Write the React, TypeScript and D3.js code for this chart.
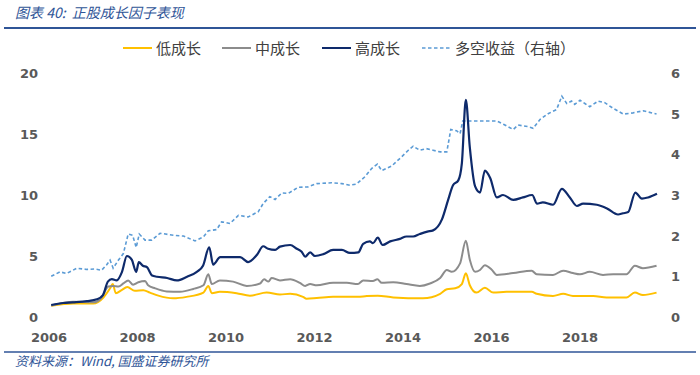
import React from "react";
import * as d3 from "d3";

type P = [number, number];

const yearTicks = [2006, 2008, 2010, 2012, 2014, 2016, 2018];
const leftTicks = [0, 5, 10, 15, 20];
const rightTicks = [0, 1, 2, 3, 4, 5, 6];

const legendLabels = ["低成长", "中成长", "高成长", "多空收益（右轴）"];
const titleText = "图表 40:  正股成长因子表现";
const sourceText = "资料来源：Wind, 国盛证券研究所";

const lowGrowth: P[] = [
  [2006.05, 0.93], [2006.55, 1.1], [2007.0, 1.1], [2007.23, 1.6], [2007.38, 2.35], [2007.44, 2.7],
  [2007.51, 1.95], [2007.64, 2.2], [2007.77, 2.45], [2007.94, 2.15], [2008.13, 2.2], [2008.28, 2.0],
  [2008.47, 1.75], [2008.81, 1.53], [2009.11, 1.65], [2009.49, 2.0], [2009.6, 2.55], [2009.68, 1.95],
  [2009.86, 2.07], [2010.24, 1.95], [2010.54, 1.75], [2010.92, 2.0], [2011.22, 1.85], [2011.45, 1.9],
  [2011.74, 1.65], [2011.82, 1.5], [2012.05, 1.55], [2012.42, 1.65], [2012.98, 1.65], [2013.18, 1.72],
  [2013.43, 1.75], [2013.78, 1.6], [2014.45, 1.53], [2014.84, 1.9], [2014.99, 2.27], [2015.18, 2.35],
  [2015.33, 2.7], [2015.42, 3.58], [2015.51, 2.6], [2015.66, 2.0], [2015.85, 2.4], [2016.04, 2.0],
  [2016.34, 2.07], [2016.91, 2.07], [2017.02, 1.9], [2017.39, 1.72], [2017.62, 1.9], [2017.84, 1.72],
  [2018.3, 1.72], [2018.6, 1.6], [2019.05, 1.6], [2019.24, 2.0], [2019.42, 1.8], [2019.73, 2.0],
];

const midGrowth: P[] = [
  [2006.05, 0.93], [2006.55, 1.25], [2007.0, 1.2], [2007.19, 1.6], [2007.34, 2.5], [2007.45, 2.55],
  [2007.57, 2.5], [2007.68, 2.75], [2007.79, 3.0], [2007.9, 2.65], [2008.02, 2.85], [2008.17, 2.95],
  [2008.24, 2.6], [2008.4, 2.35], [2008.66, 2.1], [2008.96, 2.07], [2009.26, 2.3], [2009.49, 2.6],
  [2009.6, 3.5], [2009.68, 2.7], [2009.86, 3.0], [2010.16, 2.9], [2010.47, 2.55], [2010.77, 2.75],
  [2010.86, 3.1], [2010.96, 2.9], [2011.03, 3.2], [2011.22, 3.0], [2011.45, 3.1], [2011.67, 2.8],
  [2011.79, 2.55], [2011.9, 2.7], [2012.05, 2.6], [2012.42, 2.8], [2012.73, 2.8], [2012.98, 2.7],
  [2013.1, 3.0], [2013.32, 2.95], [2013.42, 3.1], [2013.52, 2.8], [2013.78, 2.85], [2014.08, 2.7],
  [2014.38, 2.55], [2014.61, 2.75], [2014.84, 3.2], [2014.99, 3.85], [2015.1, 3.7], [2015.29, 4.4],
  [2015.42, 6.25], [2015.51, 4.7], [2015.63, 3.7], [2015.74, 3.85], [2015.85, 4.25], [2016.0, 3.9],
  [2016.12, 3.45], [2016.49, 3.6], [2016.91, 3.8], [2017.02, 3.5], [2017.39, 3.45], [2017.62, 3.8],
  [2017.84, 3.6], [2018.0, 3.5], [2018.22, 3.7], [2018.52, 3.45], [2018.75, 3.5], [2019.05, 3.5],
  [2019.24, 4.2], [2019.42, 4.0], [2019.73, 4.2],
];

const highGrowth: P[] = [
  [2006.05, 0.98], [2006.32, 1.15], [2006.54, 1.2], [2006.86, 1.3], [2007.08, 1.45], [2007.22, 1.8],
  [2007.33, 2.9], [2007.42, 3.1], [2007.53, 3.0], [2007.65, 3.7], [2007.76, 5.0], [2007.87, 4.7],
  [2007.97, 3.7], [2008.03, 4.5], [2008.12, 4.2], [2008.21, 4.1], [2008.33, 3.4], [2008.44, 3.3],
  [2008.67, 3.2], [2008.89, 3.0], [2009.12, 3.3], [2009.34, 3.7], [2009.48, 4.2], [2009.62, 5.7],
  [2009.71, 4.3], [2009.87, 4.9], [2010.09, 4.9], [2010.32, 4.9], [2010.5, 4.5], [2010.7, 5.1],
  [2010.84, 5.8], [2010.95, 5.6], [2011.11, 5.5], [2011.22, 5.77], [2011.45, 5.9], [2011.6, 5.6],
  [2011.71, 5.35], [2011.79, 4.95], [2011.9, 5.3], [2012.01, 5.0], [2012.2, 5.15], [2012.42, 5.5],
  [2012.62, 5.5], [2012.8, 5.25], [2012.99, 5.3], [2013.1, 6.0], [2013.25, 6.2], [2013.32, 6.05],
  [2013.43, 6.5], [2013.54, 5.9], [2013.71, 6.2], [2013.93, 6.4], [2014.08, 6.6], [2014.23, 6.6],
  [2014.38, 6.8], [2014.55, 7.0], [2014.68, 7.1], [2014.88, 8.0], [2015.02, 9.6], [2015.13, 10.8],
  [2015.25, 11.2], [2015.33, 12.6], [2015.42, 17.8], [2015.51, 13.9], [2015.63, 10.7], [2015.74, 10.2],
  [2015.85, 12.0], [2015.97, 11.4], [2016.12, 9.8], [2016.26, 10.0], [2016.49, 9.6], [2016.71, 9.8],
  [2016.92, 10.0], [2017.03, 9.3], [2017.16, 9.4], [2017.39, 9.2], [2017.59, 10.5], [2017.77, 9.8],
  [2017.93, 9.1], [2018.07, 9.3], [2018.38, 9.2], [2018.61, 8.9], [2018.86, 8.4], [2018.97, 8.5],
  [2019.09, 8.6], [2019.25, 10.2], [2019.4, 9.7], [2019.54, 9.8], [2019.74, 10.1],
];

const longShort: P[] = [
  [2006.05, 1.0], [2006.25, 1.11], [2006.4, 1.07], [2006.63, 1.2], [2006.85, 1.17], [2007.04, 1.18],
  [2007.19, 1.15], [2007.3, 1.28], [2007.38, 1.4], [2007.45, 1.2], [2007.57, 1.4], [2007.68, 1.56],
  [2007.79, 2.04], [2007.89, 2.01], [2007.97, 1.71], [2008.04, 2.04], [2008.17, 1.89], [2008.32, 1.89],
  [2008.51, 2.06], [2008.81, 2.01], [2009.04, 1.99], [2009.3, 1.87], [2009.49, 1.97], [2009.6, 2.12],
  [2009.79, 2.15], [2009.9, 2.34], [2010.09, 2.3], [2010.28, 2.5], [2010.5, 2.46], [2010.73, 2.59],
  [2010.84, 2.79], [2010.99, 2.96], [2011.11, 2.89], [2011.26, 3.05], [2011.41, 3.04], [2011.63, 3.19],
  [2011.85, 3.2], [2012.05, 3.28], [2012.39, 3.3], [2012.62, 3.28], [2012.8, 3.24], [2012.95, 3.27],
  [2013.14, 3.45], [2013.29, 3.65], [2013.42, 3.76], [2013.52, 3.6], [2013.74, 3.71], [2013.97, 3.94],
  [2014.12, 4.1], [2014.23, 4.2], [2014.38, 4.1], [2014.53, 4.14], [2014.68, 4.1], [2014.84, 4.06],
  [2014.99, 4.06], [2015.08, 4.61], [2015.21, 4.58], [2015.29, 4.51], [2015.35, 4.82], [2015.74, 4.82],
  [2016.12, 4.82], [2016.27, 4.74], [2016.49, 4.61], [2016.6, 4.72], [2016.83, 4.68], [2016.94, 4.64],
  [2017.1, 4.86], [2017.28, 5.0], [2017.47, 5.1], [2017.59, 5.43], [2017.7, 5.25], [2017.81, 5.31],
  [2017.88, 5.23], [2018.0, 5.33], [2018.11, 5.25], [2018.22, 5.17], [2018.41, 5.31], [2018.56, 5.27],
  [2018.75, 5.13], [2018.98, 4.99], [2019.2, 5.02], [2019.43, 5.07], [2019.73, 4.99],
];

const COLORS = {
  low: "#FFC000",
  mid: "#8C8C8C",
  high: "#0E2A6B",
  ls: "#5B9BD5",
  axisText: "#595959",
  blue: "#2F5597",
};

export default function App() {
  const W = 700;
  const H = 375;
  const x = d3.scaleLinear().domain([2006, 2018]).range([49, 580]);
  const yL = d3.scaleLinear().domain([0, 20]).range([317, 73]);
  const yR = d3.scaleLinear().domain([0, 6]).range([317, 73]);

  const lineL = d3
    .line<P>()
    .x((d) => x(d[0]))
    .y((d) => yL(d[1]))
    .curve(d3.curveMonotoneX);
  const lineR = d3
    .line<P>()
    .x((d) => x(d[0]))
    .y((d) => yR(d[1]))
    .curve(d3.curveLinear);

  const axisFont = "'DejaVu Sans', Verdana, sans-serif";
  const cjkFont = "'Noto Sans CJK SC', sans-serif";

  const legendItems = [
    { label: legendLabels[0], color: COLORS.low, dash: undefined as string | undefined, x0: 123 },
    { label: legendLabels[1], color: COLORS.mid, dash: undefined, x0: 222 },
    { label: legendLabels[2], color: COLORS.high, dash: undefined, x0: 322 },
    { label: legendLabels[3], color: COLORS.ls, dash: "3.5,2.5", x0: 422 },
  ];

  return (
    <svg
      width={W}
      height={H}
      style={{ position: "absolute", left: 0, top: 0, background: "#fff" }}
    >
      <rect x={0} y={0} width={W} height={H} fill="#fff" />
      {/* title */}
      <text
        x={15}
        y={18}
        fontFamily={cjkFont}
        fontSize={14}
        fontStyle="italic"
        fill={COLORS.blue}
        style={{ whiteSpace: "pre" }}
      >
        {titleText}
      </text>
      <line x1={4} x2={696} y1={28} y2={28} stroke={COLORS.blue} strokeWidth={2} />

      {/* legend */}
      {legendItems.map((it) => (
        <g key={it.label}>
          <line
            x1={it.x0}
            x2={it.x0 + 29}
            y1={48}
            y2={48}
            stroke={it.color}
            strokeWidth={it.dash ? 1.5 : 2}
            strokeDasharray={it.dash}
          />
          <text
            x={it.x0 + 33}
            y={53.5}
            fontFamily={cjkFont}
            fontSize={15}
            fill="#404040"
          >
            {it.label}
          </text>
        </g>
      ))}

      {/* left axis labels */}
      {leftTicks.map((t) => (
        <text
          key={"l" + t}
          x={38}
          y={yL(t) + 5}
          textAnchor="end"
          fontFamily={axisFont}
          fontWeight="bold"
          fontSize={13}
          fill={COLORS.axisText}
        >
          {t}
        </text>
      ))}
      {/* right axis labels */}
      {rightTicks.map((t) => (
        <text
          key={"r" + t}
          x={671}
          y={yR(t) + 5}
          textAnchor="start"
          fontFamily={axisFont}
          fontWeight="bold"
          fontSize={13}
          fill={COLORS.axisText}
        >
          {t}
        </text>
      ))}
      {/* x axis labels */}
      {yearTicks.map((t) => (
        <text
          key={"x" + t}
          x={x(t)}
          y={342}
          textAnchor="middle"
          fontFamily={axisFont}
          fontWeight="bold"
          fontSize={13}
          fill={COLORS.axisText}
        >
          {t}
        </text>
      ))}

      {/* series */}
      <path d={lineR(longShort) || ""} fill="none" stroke={COLORS.ls} strokeWidth={1.6} strokeDasharray="3.5,2.5" />
      <path d={lineL(lowGrowth) || ""} fill="none" stroke={COLORS.low} strokeWidth={2} />
      <path d={lineL(midGrowth) || ""} fill="none" stroke={COLORS.mid} strokeWidth={2} />
      <path d={lineL(highGrowth) || ""} fill="none" stroke={COLORS.high} strokeWidth={2.2} />

      {/* footer */}
      <line x1={4} x2={696} y1={352} y2={352} stroke={COLORS.blue} strokeWidth={1.5} />
      <text
        x={15}
        y={366}
        fontFamily={cjkFont}
        fontSize={13}
        fontStyle="italic"
        fill={COLORS.blue}
      >
        {sourceText}
      </text>
    </svg>
  );
}
